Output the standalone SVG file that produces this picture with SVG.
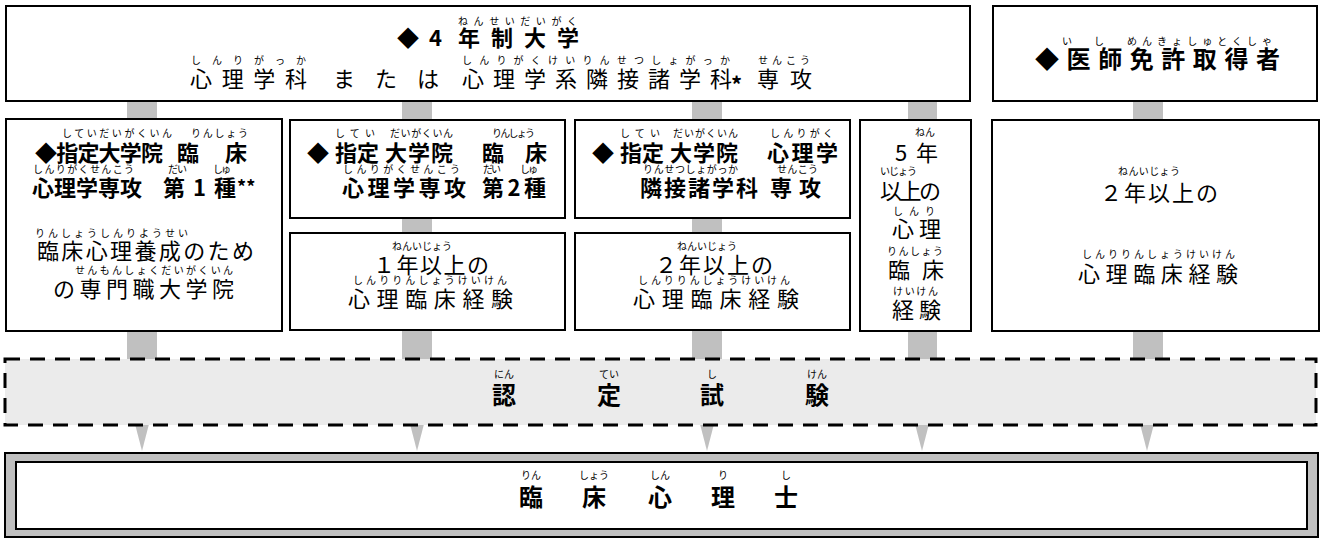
<svg xmlns="http://www.w3.org/2000/svg" width="1322" height="538" viewBox="0 0 1322 538">
<style>
text{font-family:"Noto Sans CJK JP","Noto Sans CJK SC",sans-serif;fill:#000}
.m{font-size:22px}
.b{font-weight:bold}
.r{font-size:10px}
.c{text-anchor:middle}
.box{fill:#fff;stroke:#000;stroke-width:2}
.bar{fill:#c0c0c0}
</style>
<rect width="1322" height="538" fill="#fff"/>
<g id="connectors">
<rect class="bar" x="127" y="100" width="30" height="260"/>
<rect class="bar" x="402" y="100" width="30" height="260"/>
<rect class="bar" x="692" y="100" width="30" height="260"/>
<rect class="bar" x="908" y="100" width="29" height="260"/>
<rect class="bar" x="1133" y="100" width="30" height="260"/>
<polygon class="bar" points="135,424 149,424 142,451"/>
<polygon class="bar" points="410,424 424,424 417,451"/>
<polygon class="bar" points="700,424 714,424 707,451"/>
<polygon class="bar" points="915,424 929,424 922,451"/>
<polygon class="bar" points="1140,424 1154,424 1147,451"/>
</g>
<g id="univ4">
<rect class="box" x="6" y="6" width="964" height="95"/>
<text class="r" x="458" y="25" textLength="119">ねんせいだいがく</text>
<text class="m b" x="397" y="46">◆</text>
<text class="m b" x="429" y="46">4</text>
<text class="m b" x="458" y="46" textLength="121">年制大学</text>
<text class="r" x="191" y="64" textLength="115">しんりがっか</text>
<text class="r" x="462" y="64" textLength="268">しんりがくけいりんせつしょがっか</text>
<text class="r" x="758" y="64" textLength="52">せんこう</text>
<text class="m" x="190" y="87" textLength="117">心理学科</text>
<text class="m" x="333" y="87" textLength="106">または</text>
<text class="m" x="462" y="87" textLength="270">心理学系隣接諸学科</text>
<text class="m b" x="731" y="93">*</text>
<text class="m" x="757" y="87" textLength="55">専攻</text>
</g>
<g id="doctor">
<rect class="box" x="993" y="6" width="324" height="95"/>
<text class="r" x="1062" y="45">い</text>
<text class="r" x="1094" y="45">し</text>
<text class="r" x="1127" y="45" textLength="145">めんきょしゅとくしゃ</text>
<text class="b" font-size="24" x="1035" y="68" textLength="245">◆医師免許取得者</text>
</g>
<g id="grad1">
<rect class="box" x="6" y="119" width="276" height="212"/>
<text class="r" x="62" y="137" textLength="110">していだいがくいん</text>
<text class="r" x="191" y="137" textLength="57">りんしょう</text>
<text class="m b" x="35" y="161" textLength="128">◆指定大学院</text>
<text class="m b" x="177" y="161">臨</text>
<text class="m b" x="225" y="161">床</text>
<text class="r" x="33" y="173" textLength="101">しんりがくせんこう</text>
<text class="r" x="168" y="173" textLength="19">だい</text>
<text class="r" x="213" y="173" textLength="18">しゅ</text>
<text class="m b" x="32" y="196" textLength="110">心理学専攻</text>
<text class="m b" x="163" y="196" textLength="73">第1種</text>
<text class="b" font-size="18" x="237" y="194">**</text>
<text class="r" x="35" y="237" textLength="153">りんしょうしんりようせい</text>
<text class="m" x="37" y="259" textLength="217">臨床心理養成のため</text>
<text class="r" x="75" y="274" textLength="158">せんもんしょくだいがくいん</text>
<text class="m" x="53" y="297" textLength="181">の専門職大学院</text>
</g>
<g id="grad2">
<rect class="box" x="290" y="120" width="275" height="98"/>
<text class="r" x="335" y="137" textLength="40">してい</text>
<text class="r" x="390" y="137" textLength="63">だいがくいん</text>
<text class="r" x="492" y="137" textLength="43">りんしょう</text>
<text class="m b" x="307" y="161">◆</text>
<text class="m b" x="335" y="161" textLength="44">指定</text>
<text class="m b" x="385" y="161" textLength="68">大学院</text>
<text class="m b" x="482" y="161" textLength="65">臨床</text>
<text class="r" x="343" y="173" textLength="117">しんりがくせんこう</text>
<text class="r" x="483" y="173" textLength="18">だい</text>
<text class="r" x="520" y="173" textLength="18">しゅ</text>
<text class="m b" x="342" y="196" textLength="124">心理学専攻</text>
<text class="m b" x="482" y="196" textLength="64">第2種</text>
</g>
<g id="exp1">
<rect class="box" x="290" y="233" width="275" height="97"/>
<text class="r" x="392" y="250" textLength="60">ねんいじょう</text>
<text class="m" x="373" y="273" textLength="116">１年以上の</text>
<text class="r" x="353" y="284" textLength="154">しんりりんしょうけいけん</text>
<text class="m" x="348" y="307" textLength="165">心理臨床経験</text>
</g>
<g id="grad3">
<rect class="box" x="575" y="120" width="275" height="98"/>
<text class="r" x="620" y="137" textLength="40">してい</text>
<text class="r" x="673" y="137" textLength="65">だいがくいん</text>
<text class="r" x="770" y="137" textLength="63">しんりがく</text>
<text class="m b" x="592" y="161">◆</text>
<text class="m b" x="620" y="161" textLength="44">指定</text>
<text class="m b" x="670" y="161" textLength="68">大学院</text>
<text class="m b" x="767" y="161" textLength="71">心理学</text>
<text class="r" x="643" y="173" textLength="95">りんせつしょがっか</text>
<text class="r" x="777" y="173" textLength="41">せんこう</text>
<text class="m b" x="640" y="196" textLength="118">隣接諸学科</text>
<text class="m b" x="770" y="196" textLength="51">専攻</text>
</g>
<g id="exp2">
<rect class="box" x="575" y="233" width="275" height="97"/>
<text class="r" x="677" y="250" textLength="60">ねんいじょう</text>
<text class="m" x="655" y="273" textLength="118">２年以上の</text>
<text class="r" x="638" y="284" textLength="152">しんりりんしょうけいけん</text>
<text class="m" x="633" y="307" textLength="166">心理臨床経験</text>
</g>
<g id="exp5">
<rect class="box" x="860" y="120" width="111" height="211"/>
<text class="r" x="915" y="136" textLength="20">ねん</text>
<text class="m" font-size="23" x="895" y="161" textLength="43">5年</text>
<text class="r" x="880" y="175" textLength="37">いじょう</text>
<text class="m" x="880" y="199" textLength="61">以上の</text>
<text class="r" x="893" y="215" textLength="42">しんり</text>
<text class="m" x="892" y="237" textLength="49">心理</text>
<text class="r" x="887" y="255" textLength="56">りんしょう</text>
<text class="m" x="888" y="278" textLength="56">臨床</text>
<text class="r" x="893" y="295" textLength="45">けいけん</text>
<text class="m" x="892" y="318" textLength="49">経験</text>
</g>
<g id="exp2doc">
<rect class="box" x="992" y="120" width="327" height="211"/>
<text class="r" x="1118" y="175" textLength="62">ねんいじょう</text>
<text class="m" x="1100" y="201" textLength="118">２年以上の</text>
<text class="r" x="1082" y="258" textLength="153">しんりりんしょうけいけん</text>
<text class="m" x="1078" y="282" textLength="160">心理臨床経験</text>
</g>
<g id="exam">
<rect x="5" y="359" width="1311" height="66" fill="#ebebeb" stroke="#000" stroke-width="3" stroke-dasharray="15 10"/>
<text class="r c" x="504" y="378">にん</text>
<text class="r c" x="609" y="378">てい</text>
<text class="r c" x="712" y="378">し</text>
<text class="r c" x="817" y="378">けん</text>
<text class="b c" font-size="24" x="504" y="404">認</text>
<text class="b c" font-size="24" x="609" y="404">定</text>
<text class="b c" font-size="24" x="712" y="404">試</text>
<text class="b c" font-size="24" x="817" y="404">験</text>
</g>
<g id="license">
<rect x="5" y="453" width="1313" height="84" fill="#c0c0c0" stroke="#000" stroke-width="2"/>
<rect x="16" y="462" width="1291" height="67" fill="#fff" stroke="#000" stroke-width="2"/>
<text class="r c" x="531" y="479">りん</text>
<text class="r c" x="594" y="479">しょう</text>
<text class="r c" x="660" y="479">しん</text>
<text class="r c" x="723" y="479">り</text>
<text class="r c" x="786" y="479">し</text>
<text class="b c" font-size="24" x="531" y="506">臨</text>
<text class="b c" font-size="24" x="594" y="506">床</text>
<text class="b c" font-size="24" x="660" y="506">心</text>
<text class="b c" font-size="24" x="723" y="506">理</text>
<text class="b c" font-size="24" x="786" y="506">士</text>
</g>
</svg>
